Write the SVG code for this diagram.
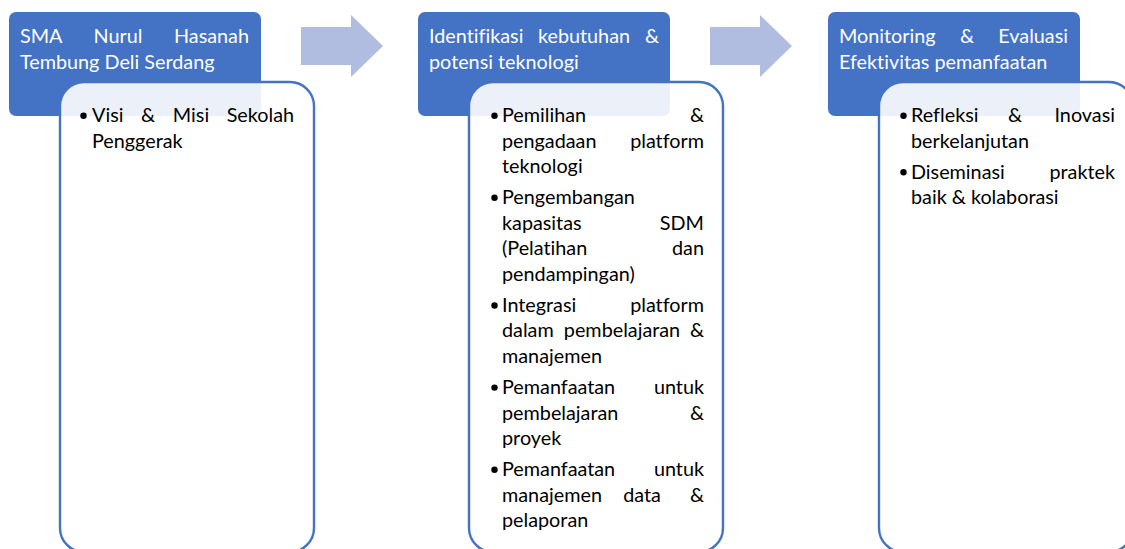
<svg xmlns="http://www.w3.org/2000/svg" width="1125" height="549" viewBox="0 0 1125 549">
<style>
.hdr{fill:#4472C4}
.sub{fill:#FFFFFF;fill-opacity:0.9;stroke:#4472C4;stroke-width:2.4}
.arr{fill:#B0BDE0}
.ht{font-family:Lato,"Liberation Sans",sans-serif;font-size:19.8px;fill:#FFFFFF;font-variant-ligatures:none}
.bt{font-family:Lato,"Liberation Sans",sans-serif;font-size:19.8px;fill:#000000;font-variant-ligatures:none}
.m{text-anchor:middle}
.e{text-anchor:end}
.dot{fill:#000000}
</style>
<rect width="1125" height="549" fill="#FFFFFF"/>
<g id="connectors">
<polygon class="arr" points="301,27 351,27 351,15 383,46 351,77 351,65 301,65"/>
<polygon class="arr" points="710,27 760,27 760,15 792,46 760,77 760,65 710,65"/>
</g>
<g id="node1">
<rect class="hdr" x="9" y="12" width="252" height="104" rx="7"/>
<text class="ht" y="43"><tspan x="20">SMA</tspan><tspan class="m" x="118">Nurul</tspan><tspan class="e" x="249">Hasanah</tspan></text>
<text class="ht" x="20" y="68.6">Tembung Deli Serdang</text>
</g>
<g id="node1-detail">
<rect class="sub" x="60" y="82" width="254" height="470" rx="24"/>
<circle class="dot" cx="83.5" cy="115.7" r="3.2"/>
<text class="bt" y="122"><tspan x="92">Visi</tspan><tspan class="m" x="148">&amp;</tspan><tspan class="m" x="191">Misi</tspan><tspan class="e" x="294">Sekolah</tspan></text>
<text class="bt" x="92" y="147.6">Penggerak</text>
</g>
<g id="node2">
<rect class="hdr" x="418" y="12" width="252" height="104" rx="7"/>
<text class="ht" y="43"><tspan x="429">Identifikasi</tspan><tspan class="m" x="584">kebutuhan</tspan><tspan class="e" x="659">&amp;</tspan></text>
<text class="ht" x="429" y="68.6">potensi teknologi</text>
</g>
<g id="node2-detail">
<rect class="sub" x="469" y="82" width="254" height="470" rx="24"/>
<circle class="dot" cx="494.5" cy="115.7" r="3.2"/>
<circle class="dot" cx="494.5" cy="197.8" r="3.2"/>
<circle class="dot" cx="494.5" cy="305.5" r="3.2"/>
<circle class="dot" cx="494.5" cy="387.6" r="3.2"/>
<circle class="dot" cx="494.5" cy="469.7" r="3.2"/>
<text class="bt" y="122"><tspan x="502">Pemilihan</tspan><tspan class="e" x="704">&amp;</tspan></text>
<text class="bt" y="147.6"><tspan x="502">pengadaan</tspan><tspan class="e" x="704">platform</tspan></text>
<text class="bt" x="502" y="173.2">teknologi</text>
<text class="bt" x="502" y="204.1">Pengembangan</text>
<text class="bt" y="229.7"><tspan x="502">kapasitas</tspan><tspan class="e" x="704">SDM</tspan></text>
<text class="bt" y="255.3"><tspan x="502">(Pelatihan</tspan><tspan class="e" x="704">dan</tspan></text>
<text class="bt" x="502" y="280.9">pendampingan)</text>
<text class="bt" y="311.8"><tspan x="502">Integrasi</tspan><tspan class="e" x="704">platform</tspan></text>
<text class="bt" y="337.4"><tspan x="502">dalam</tspan><tspan class="m" x="622">pembelajaran</tspan><tspan class="e" x="704">&amp;</tspan></text>
<text class="bt" x="502" y="363">manajemen</text>
<text class="bt" y="393.9"><tspan x="502">Pemanfaatan</tspan><tspan class="e" x="704">untuk</tspan></text>
<text class="bt" y="419.5"><tspan x="502">pembelajaran</tspan><tspan class="e" x="704">&amp;</tspan></text>
<text class="bt" x="502" y="445.1">proyek</text>
<text class="bt" y="476"><tspan x="502">Pemanfaatan</tspan><tspan class="e" x="704">untuk</tspan></text>
<text class="bt" y="501.6"><tspan x="502">manajemen</tspan><tspan class="m" x="642">data</tspan><tspan class="e" x="704">&amp;</tspan></text>
<text class="bt" x="502" y="527.2">pelaporan</text>
</g>
<g id="node3">
<rect class="hdr" x="828" y="12" width="252" height="104" rx="7"/>
<text class="ht" y="43"><tspan x="839">Monitoring</tspan><tspan class="m" x="967">&amp;</tspan><tspan class="e" x="1068">Evaluasi</tspan></text>
<text class="ht" x="839" y="68.6">Efektivitas pemanfaatan</text>
</g>
<g id="node3-detail">
<rect class="sub" x="879" y="82" width="254" height="470" rx="24"/>
<circle class="dot" cx="903.5" cy="115.7" r="3.2"/>
<circle class="dot" cx="903.5" cy="172.2" r="3.2"/>
<text class="bt" y="122"><tspan x="911">Refleksi</tspan><tspan class="m" x="1015">&amp;</tspan><tspan class="e" x="1115">Inovasi</tspan></text>
<text class="bt" x="911" y="147.6">berkelanjutan</text>
<text class="bt" y="178.5"><tspan x="911">Diseminasi</tspan><tspan class="e" x="1115">praktek</tspan></text>
<text class="bt" x="911" y="204.1">baik &amp; kolaborasi</text>
</g>
</svg>
